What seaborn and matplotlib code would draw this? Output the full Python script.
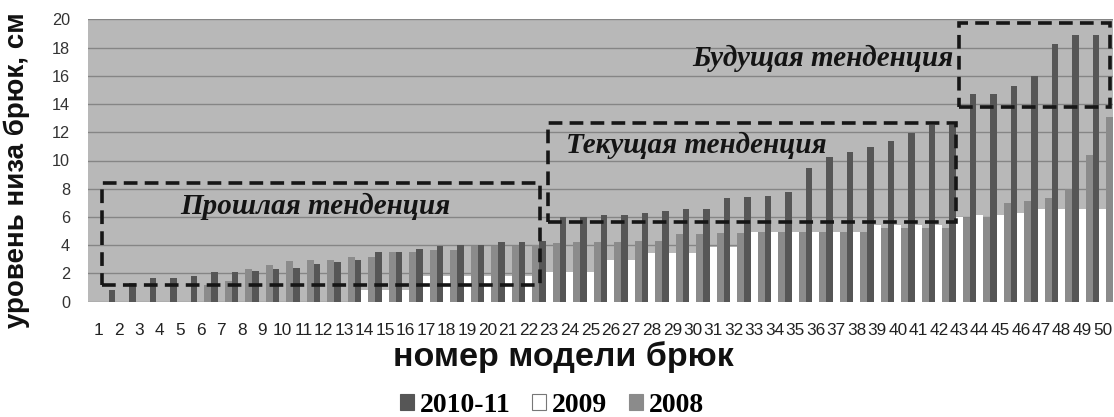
import matplotlib
matplotlib.use('Agg')
import matplotlib.pyplot as plt
import seaborn as sns
import pandas as pd
from matplotlib.patches import Rectangle, Patch

# ---------------- data ----------------
models = [str(i) for i in range(1, 51)]
years = ['2010-11', '2009', '2008']

y2010 = [0, 0.83, 1.35, 1.7, 1.7, 1.82, 2.08, 2.08, 2.17, 2.29,
         2.36, 2.67, 2.79, 2.95, 3.54, 3.54, 3.71, 3.94, 4.0, 4.0,
         4.2, 4.2, 4.32, 5.98, 5.98, 6.14, 6.14, 6.26, 6.45, 6.54,
         6.54, 7.32, 7.39, 7.49, 7.79, 9.45, 10.27, 10.58, 10.93, 11.4,
         11.95, 12.5, 12.5, 14.7, 14.7, 15.3, 16.0, 18.25, 18.9, 18.9]

y2009 = [0, 0, 0, 0, 0, 0, 0, 0, 0, 0,
         0, 0, 0, 0.83, 0.83, 0.83, 1.82, 1.82, 1.82, 1.82,
         1.82, 1.82, 2.12, 2.12, 2.12, 2.95, 2.95, 3.43, 3.43, 3.43,
         3.85, 3.85, 4.96, 4.96, 4.96, 4.96, 4.96, 4.96, 5.4, 5.4,
         5.4, 5.4, 6.0, 6.14, 6.14, 6.28, 6.6, 6.6, 6.6, 6.6]

y2008 = [0, 0, 0, 0, 0, 1.2, 1.49, 2.3, 2.6, 2.88,
         2.95, 2.95, 3.14, 3.14, 3.54, 3.54, 3.63, 3.66, 3.97, 3.97,
         3.97, 4.0, 4.18, 4.2, 4.2, 4.2, 4.3, 4.3, 4.77, 4.77,
         4.89, 4.89, 4.96, 4.96, 4.96, 4.96, 4.96, 4.96, 5.24, 5.24,
         5.24, 5.24, 5.9, 6.02, 6.97, 7.13, 7.32, 7.96, 10.39, 13.06]

y_ticks = list(range(0, 21, 2))

trend_labels = ['Прошлая тенденция', 'Текущая тенденция', 'Будущая тенденция']

df = pd.DataFrame({
    'model': models * 3,
    'year': [years[0]] * 50 + [years[1]] * 50 + [years[2]] * 50,
    'value': y2010 + y2009 + y2008,
})

palette = {'2010-11': '#565656', '2009': '#ffffff', '2008': '#8b8b8b'}

# ---------------- figure ----------------
W, H = 1114, 417
fig = plt.figure(figsize=(W / 100, H / 100), dpi=100)
fig.patch.set_facecolor('white')
ax = fig.add_axes([88 / W, (H - 301.7) / H, 1025 / W, 282.4 / H])
ax.set_facecolor('#b8b8b8')

sns.barplot(data=df, x='model', y='value', hue='year', order=models,
            hue_order=years, palette=palette, width=1, gap=0,
            saturation=1, errorbar=None, linewidth=0, legend=False,
            ax=ax, zorder=2)

ax.set_xlim(-0.5, 49.5)
ax.set_ylim(0, 20)
ax.set_yticks(y_ticks)
ax.set_axisbelow(True)
ax.yaxis.grid(True, color='#858585', lw=1.0)
ax.xaxis.grid(False)
for s in ax.spines.values():
    s.set_visible(False)

ax.set_xlabel('')
ax.set_ylabel('')
ax.tick_params(axis='x', length=0, pad=15, labelsize=12.4, labelcolor='#222222')
ax.tick_params(axis='y', length=0, pad=13, labelsize=11.7, labelcolor='#333333')
for t in ax.get_xticklabels() + ax.get_yticklabels():
    t.set_family('Liberation Sans')

# dashed trend boxes
boxes = [(0.18, 1.15, 21.55, 8.44), (21.94, 5.61, 41.84, 12.66), (41.99, 13.79, 49.35, 19.76)]
for x0, y0, x1, y1 in boxes:
    ax.add_patch(Rectangle((x0, y0), x1 - x0, y1 - y0, fill=False,
                           ec='#161616', lw=2.6, ls=(0, (3.8, 2.0)),
                           zorder=5, clip_on=False))

text_pos = [(3.99, 6.2), (22.8, 10.55), (28.96, 16.7)]
for (tx, ty), lab in zip(text_pos, trend_labels):
    ax.text(tx, ty, lab, ha='left', va='baseline', fontsize=21,
            family='Liberation Serif', weight='bold', style='italic',
            color='#141414', zorder=6)

# axis titles
fig.text(563 / W, (H - 366) / H, 'номер модели брюк', ha='center', va='baseline',
         fontsize=24.5, family='Liberation Sans', weight='bold', color='#111111')
fig.text(17 / W, (H - 170) / H, 'уровень низа брюк, см', ha='center', va='center',
         rotation=90, fontsize=20, family='Liberation Sans', weight='bold', color='#111111')

# legend
handles = [Patch(facecolor=palette[y], edgecolor=('#777777' if y == '2009' else palette[y]),
                 lw=0.8) for y in years]
fig.legend(handles, years, loc='center', bbox_to_anchor=(552 / W, (H - 405) / H),
           ncol=3, frameon=False, handlelength=0.5, handleheight=0.5,
           handletextpad=0.2, columnspacing=0.8,
           prop={'family': 'Liberation Serif', 'weight': 'bold', 'size': 20})

fig.savefig('out.png', dpi=100)
